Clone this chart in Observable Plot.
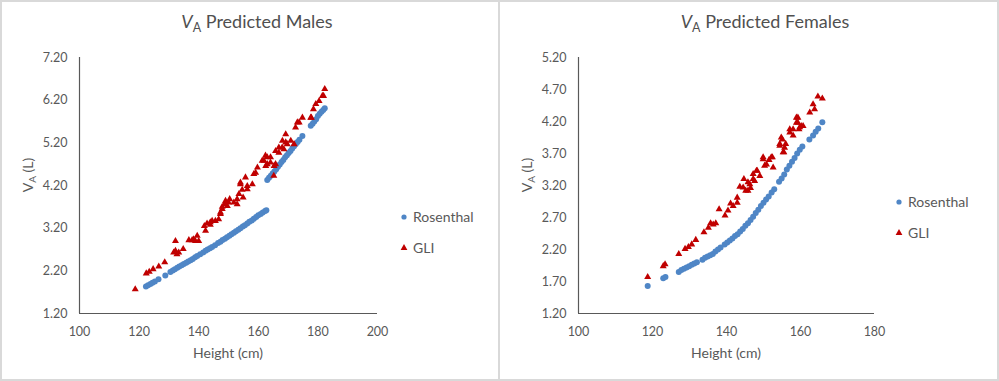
<!DOCTYPE html>
<html>
<head>
<meta charset="utf-8">
<script src="https://cdn.jsdelivr.net/npm/d3@7"></script>
<script src="https://cdn.jsdelivr.net/npm/@observablehq/plot@0.6"></script>
<style>
  html, body { margin: 0; padding: 0; background: #fff; }
  #wrap { position: relative; width: 999px; height: 381px; overflow: hidden; background: #fff; }
  .panel { position: absolute; top: 0; }
  #frame { position: absolute; left: 0; top: 0; width: 999px; height: 381px; box-sizing: border-box; border: 2px solid #d9d9d9; pointer-events: none; }
  #divider { position: absolute; left: 498px; top: 0; width: 2px; height: 381px; background: #d9d9d9; }
</style>
</head>
<body>
<div id="wrap">
  <div class="panel" id="left" style="left:0"></div>
  <div class="panel" id="right" style="left:499px"></div>
  <div id="divider"></div>
  <div id="frame"></div>
</div>
<script>
// ---- Data (height cm, VA litres) ----
const seriesNames = ["Rosenthal", "GLI"];

const maleXTicks = [100, 120, 140, 160, 180, 200];
const maleYTicks = [1.2, 2.2, 3.2, 4.2, 5.2, 6.2, 7.2];
const femaleXTicks = [100, 120, 140, 160, 180];
const femaleYTicks = [1.2, 1.7, 2.2, 2.7, 3.2, 3.7, 4.2, 4.7, 5.2];

const maleRosenthal = [
  [122.3,1.83],[123.0,1.86],[123.8,1.89],[124.5,1.92],[125.3,1.95],[126.5,2.00],[128.8,2.09],
  [130.5,2.17],[131.3,2.21],[132.0,2.24],[132.8,2.27],[133.5,2.30],[134.3,2.33],[135.0,2.36],
  [135.8,2.39],[136.5,2.42],[137.3,2.45],[138.0,2.48],[138.8,2.52],[139.5,2.55],[140.5,2.59],
  [141.5,2.63],[142.3,2.67],[143.0,2.70],[143.8,2.73],[144.5,2.76],[145.5,2.80],[146.5,2.85],
  [147.3,2.88],[148.0,2.92],[148.8,2.95],[149.5,2.99],[150.3,3.02],[151.0,3.06],[151.8,3.09],
  [152.5,3.13],[153.3,3.16],[154.0,3.20],[154.8,3.24],[155.5,3.27],[156.3,3.31],[157.0,3.35],
  [157.8,3.38],[158.5,3.42],[159.3,3.46],[160.0,3.50],[160.8,3.53],[161.5,3.57],[162.3,3.60],
  [162.7,3.62],
  [163.0,4.33],[163.6,4.38],[164.2,4.43],[164.8,4.48],[165.4,4.53],[166.0,4.58],[166.6,4.64],
  [167.2,4.69],[167.8,4.75],[168.4,4.80],[169.0,4.86],[169.6,4.91],[170.2,4.96],[170.8,5.01],
  [171.4,5.07],[172.0,5.12],[172.6,5.17],[173.2,5.22],[173.8,5.27],[174.8,5.36],
  [177.6,5.60],[178.2,5.65],[178.8,5.70],[179.4,5.75],[180.0,5.83],[180.6,5.88],[181.2,5.93],
  [181.8,5.97],[182.3,6.01]
];

const maleGLI = [
  [118.7,1.77],[122.4,2.14],[123.4,2.18],[124.7,2.24],[126.6,2.30],[128.6,2.40],[131.6,2.63],
  [132.2,2.67],[132.2,2.90],[132.7,2.59],[133.3,2.63],[134.8,2.71],[136.7,2.92],[137.8,2.92],
  [138.3,2.94],[138.9,2.90],[139.5,3.02],[140.0,2.90],[141.9,3.25],[142.3,3.14],[142.8,3.31],
  [143.9,3.28],[143.9,3.34],[144.5,3.37],[145.6,3.37],[146.7,3.41],[147.3,3.53],[147.3,3.57],
  [147.9,3.65],[147.9,3.70],[148.7,3.76],[149.0,3.84],[149.6,3.72],[150.4,3.88],[150.0,3.80],
  [151.8,3.80],[152.9,3.76],[152.9,3.88],[153.5,4.00],[154.0,4.23],[154.0,4.27],[154.6,4.10],
  [154.9,3.92],[155.7,4.39],[156.3,4.11],[156.3,4.19],[158.0,4.23],[158.5,4.47],[159.1,4.50],
  [159.7,4.62],[161.3,4.78],[161.9,4.78],[162.4,4.90],[162.5,4.66],[163.0,4.70],[163.0,4.86],
  [164.1,4.74],[164.1,4.86],[165.2,4.43],[165.3,4.66],[165.8,4.70],[165.8,5.01],[166.9,4.97],
  [166.9,5.09],[168.0,5.09],[168.1,5.25],[168.6,5.05],[169.2,5.21],[169.2,5.40],[169.7,5.17],
  [170.9,5.25],[172.0,5.17],[172.5,5.56],[173.1,5.68],[173.7,5.68],[174.8,5.79],[177.6,5.79],
  [177.8,5.79],[178.5,5.99],[179.3,6.11],[180.4,6.18],[181.5,6.30],[181.9,6.30],[182.3,6.46]
];

const femaleRosenthal = [
  [118.7,1.63],[122.9,1.75],[123.5,1.77],[127.1,1.85],[127.8,1.88],[128.5,1.90],[129.2,1.92],
  [129.9,1.94],[130.6,1.96],[131.3,1.98],[132.0,2.00],[133.5,2.04],[134.2,2.07],[134.9,2.09],
  [135.6,2.11],[136.3,2.13],[137.0,2.17],[137.7,2.20],[138.4,2.23],[139.5,2.28],[140.2,2.31],
  [140.9,2.34],[141.6,2.37],[142.3,2.41],[143.0,2.44],[143.7,2.48],[144.4,2.52],[145.1,2.57],
  [145.8,2.61],[146.5,2.66],[147.2,2.71],[147.9,2.77],[148.6,2.82],[149.3,2.88],[150.0,2.93],
  [150.7,2.98],[151.4,3.03],[152.2,3.09],[152.9,3.14],[154.2,3.26],[154.9,3.31],[155.6,3.37],
  [156.3,3.45],[157.0,3.51],[157.7,3.57],[158.4,3.63],[159.1,3.70],[159.8,3.76],[160.5,3.81],
  [162.4,3.92],[163.4,3.98],[164.1,4.04],[164.8,4.09],[165.9,4.19]
];

const femaleGLI = [
  [118.7,1.77],[122.9,1.94],[123.4,1.97],[127.1,2.13],[128.8,2.21],[129.7,2.24],[130.6,2.28],
  [131.7,2.35],[133.9,2.47],[135.1,2.54],[135.7,2.61],[136.4,2.59],[137.1,2.61],[138.0,2.83],
  [139.6,2.73],[140.4,2.81],[141.1,2.92],[141.8,2.88],[142.9,2.93],[142.9,3.01],[143.6,3.18],
  [144.5,3.17],[144.7,3.30],[145.2,3.12],[145.8,3.25],[145.8,3.12],[146.3,3.22],[146.5,3.16],
  [147.2,3.38],[147.2,3.30],[147.6,3.27],[148.1,3.43],[148.3,3.43],[149.0,3.35],[149.9,3.64],
  [149.9,3.61],[150.3,3.51],[150.8,3.53],[151.5,3.60],[152.1,3.64],[152.4,3.64],[152.6,3.48],
  [154.4,3.82],[154.4,3.85],[154.8,3.95],[155.1,3.92],[155.3,3.72],[155.5,3.72],[155.7,3.79],
  [156.0,3.85],[157.1,4.08],[157.1,4.03],[158.0,3.98],[158.0,4.08],[158.9,4.26],[158.9,4.18],
  [159.3,4.18],[159.3,4.26],[159.6,4.08],[159.8,4.11],[160.2,4.13],[160.7,4.13],[162.5,4.34],
  [163.4,4.47],[163.8,4.39],[164.7,4.59],[165.9,4.56]
];

// ---- Styling ----
const BLUE = "#4f86c6";
const RED = "#c00000";
const AXIS = "#595959";
const TEXT = "#595959";
const FONT = "Lato, 'Open Sans', sans-serif";

function panel({width, marginLeft, marginRight, xDomain, xTicks, yDomain, yTicks, ros, gli, title, titleX, legendX, legendY}) {
  const height = 381, marginTop = 57, marginBottom = 68;
  const chart = Plot.plot({
    width, height, marginLeft, marginRight, marginTop, marginBottom,
    style: {fontFamily: FONT, fontSize: "12.5px", color: TEXT, background: "transparent", overflow: "visible"},
    x: {domain: xDomain, ticks: xTicks, tickSize: 0, tickPadding: 14, tickFormat: "d", label: null},
    y: {domain: yDomain, ticks: yTicks, tickSize: 0, tickPadding: 12, tickFormat: ".2f", label: null},
    marks: [
      Plot.ruleX([xDomain[0]], {stroke: AXIS, strokeWidth: 1.2}),
      Plot.ruleY([yDomain[0]], {stroke: AXIS, strokeWidth: 1.2}),
      Plot.dot(ros, {x: d => d[0], y: d => d[1], r: 3, fill: BLUE, stroke: null}),
      Plot.dot(gli, {x: d => d[0], y: d => d[1], r: 2.6, symbol: "triangle", fill: RED, stroke: null})
    ]
  });
  const svg = d3.select(chart);
  const cx = (marginLeft + width - marginRight) / 2;
  const cy = (marginTop + height - marginBottom) / 2;

  // Title
  const t = svg.append("text").attr("x", titleX).attr("y", 28).attr("text-anchor", "middle")
    .attr("fill", "#505050").style("font-family", FONT).style("font-size", "18px");
  t.append("tspan").text("V").style("font-style", "italic");
  t.append("tspan").text("A").style("font-size", "12.5px").attr("dy", 4);
  t.append("tspan").text(" " + title).attr("dy", -4);

  // X axis label
  svg.append("text").attr("x", cx).attr("y", 358).attr("text-anchor", "middle")
    .attr("fill", TEXT).style("font-family", FONT).style("font-size", "14px").text("Height (cm)");

  // Y axis label
  const yl = svg.append("text").attr("transform", `translate(33,${cy - 10}) rotate(-90)`).attr("text-anchor", "middle")
    .attr("fill", TEXT).style("font-family", FONT).style("font-size", "14px");
  yl.append("tspan").text("V");
  yl.append("tspan").text("A").style("font-size", "10px").attr("dy", 3);
  yl.append("tspan").text(" (L)").attr("dy", -3);

  // Legend
  const items = [
    {name: seriesNames[0], y: legendY, kind: "dot"},
    {name: seriesNames[1], y: legendY + 31, kind: "tri"}
  ];
  for (const it of items) {
    if (it.kind === "dot") {
      svg.append("circle").attr("cx", legendX).attr("cy", it.y).attr("r", 2.6).attr("fill", BLUE);
    } else {
      svg.append("path").attr("transform", `translate(${legendX},${it.y})`)
        .attr("d", d3.symbol(d3.symbolTriangle, 20)()).attr("fill", RED);
    }
    svg.append("text").attr("x", legendX + 9).attr("y", it.y).attr("dy", "0.35em").attr("text-anchor", "start")
      .attr("fill", TEXT).style("font-family", FONT).style("font-size", "14px").text(it.name);
  }
  return chart;
}

document.getElementById("left").appendChild(panel({
  width: 499, marginLeft: 79, marginRight: 122,
  xDomain: [100, 200], xTicks: maleXTicks, yDomain: [1.2, 7.2], yTicks: maleYTicks,
  ros: maleRosenthal, gli: maleGLI, title: "Predicted Males", titleX: 257,
  legendX: 404, legendY: 217
}));

document.getElementById("right").appendChild(panel({
  width: 500, marginLeft: 79, marginRight: 125,
  xDomain: [100, 180], xTicks: femaleXTicks, yDomain: [1.2, 5.2], yTicks: femaleYTicks,
  ros: femaleRosenthal, gli: femaleGLI, title: "Predicted Females", titleX: 266,
  legendX: 400, legendY: 202
}));
</script>
</body>
</html>
